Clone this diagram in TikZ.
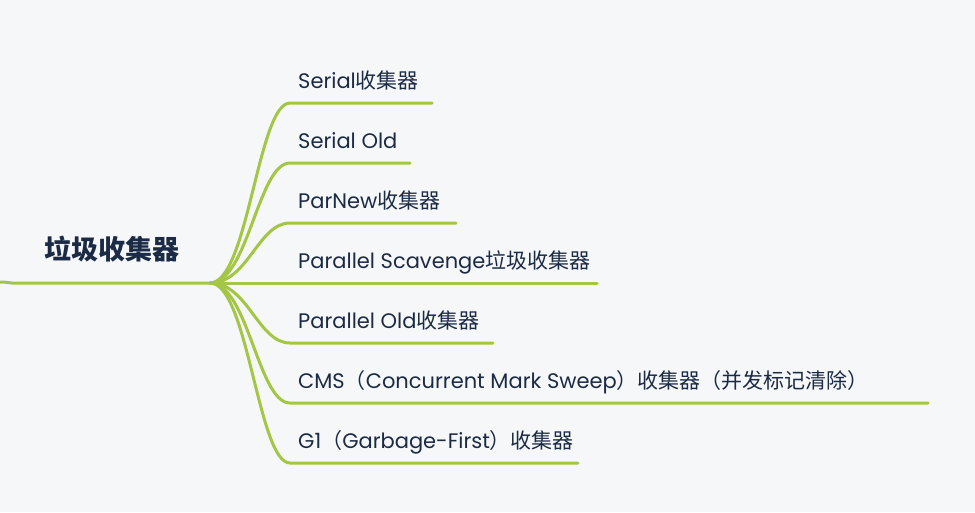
\documentclass[tikz,border=0pt]{standalone}
\usepackage{fontspec}
\setmainfont{Poppins}
\newfontfamily\cjk{Noto Sans CJK SC}
\newcommand{\zh}[1]{{\cjk #1}}
\usetikzlibrary{calc,positioning}
\definecolor{MapGreen}{HTML}{A3C644}
\definecolor{MapInk}{HTML}{1C2B45}
\definecolor{MapBack}{HTML}{F6F7F9}

\begin{document}
\begin{tikzpicture}[x=1pt,y=-1pt,
    branch/.style={draw=MapGreen,line width=3pt,line cap=round},
    leaf/.style={anchor=base west,inner sep=0pt,text=MapInk,font=\fontsize{21}{24}\selectfont},
    rootlabel/.style={anchor=west,inner sep=0pt,text=MapInk,font=\fontsize{27}{31}\selectfont\cjk\bfseries}
  ]
    \useasboundingbox[fill=MapBack] (0,0) rectangle (975,512);

    % root
    \node[rootlabel] (root) at (44,249) {垃圾收集器};
    \coordinate (tail) at (0,282);
    \coordinate (hub) at (210,283);
    \draw[branch] (tail) .. controls +(8,0) and +(-4,0) .. (12,283) -- (hub);

    % children
    \foreach \i/\y/\e/\txt in {
        1/103/432/{Serial\zh{收集器}},
        2/163/410/{Serial Old},
        3/223/456/{ParNew\zh{收集器}},
        4/283/597/{Parallel Scavenge\zh{垃圾收集器}},
        5/343/493/{Parallel Old\zh{收集器}},
        6/403/928/{CMS\zh{（}Concurrent Mark Sweep\zh{）收集器（并发标记清除）}},
        7/463/578/{G1\zh{（}Garbage-First\zh{）收集器}}} {
      \coordinate (b\i) at (290,\y);
      \coordinate (e\i) at (\e,\y);
      \node[leaf] (c\i) at (298,\y-15) {\txt};
      \draw[branch] (hub) .. controls +(38,0) and +(-32,0) .. (b\i) -- (e\i);
    }
  \end{tikzpicture}
\end{document}
